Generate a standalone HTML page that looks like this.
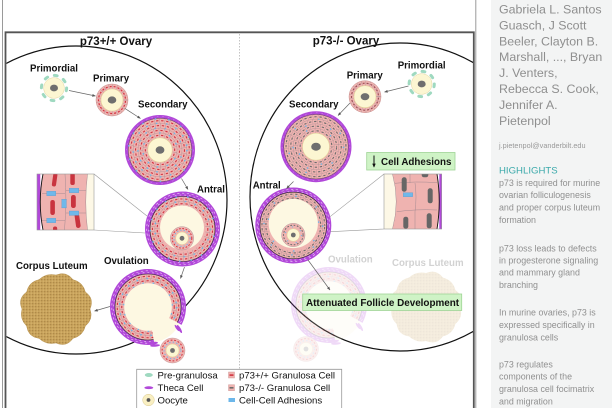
<!DOCTYPE html>
<html><head><meta charset="utf-8">
<style>
html,body{margin:0;padding:0;background:#fff;width:612px;height:408px;overflow:hidden;}
svg{display:block;}
text{font-family:"Liberation Sans",Arial,sans-serif;}
.b{font-weight:bold;fill:#111;}
.lg{font-size:9.6px;fill:#111;}
.au{font-size:12.4px;fill:#8f8f8f;}
.hl{font-size:8.9px;fill:#909090;}
</style></head><body>
<svg width="612" height="408" viewBox="0 0 612 408" xmlns="http://www.w3.org/2000/svg">
<defs>
 <marker id="ah" viewBox="0 0 6 6" refX="5.5" refY="3" markerWidth="5" markerHeight="5" orient="auto" markerUnits="strokeWidth"><path d="M0,0.6 L6,3 L0,5.4 Z" fill="#555"/></marker>
 <marker id="ahk" viewBox="0 0 6 6" refX="5" refY="3" markerWidth="4" markerHeight="4" orient="auto" markerUnits="strokeWidth"><path d="M0,0.4 L6,3 L0,5.6 Z" fill="#111"/></marker>
 <clipPath id="cbox"><rect x="6.5" y="33.3" width="466.5" height="375"/></clipPath>
 <clipPath id="ci1"><rect x="37" y="174" width="57" height="56"/></clipPath>
 <clipPath id="ci2"><rect x="384" y="174" width="58" height="55"/></clipPath>
 <pattern id="clp" width="3" height="3" patternUnits="userSpaceOnUse">
  <rect width="3" height="3" fill="#c9a35b"/>
  <circle cx="0.8" cy="0.8" r="0.5" fill="#8c6a35"/>
  <circle cx="2.2" cy="2.1" r="0.45" fill="#e6cb8a"/>
 </pattern>
 <mask id="gapm" maskUnits="userSpaceOnUse" x="-50" y="-50" width="100" height="100">
  <rect x="-50" y="-50" width="100" height="100" fill="#fff"/>
  <path d="M0,0 L44.1,23.5 L30,60 L8.7,49.2 Z" fill="#000"/>
 </mask>

 <g id="p0">
  <circle r="12.6" fill="none" stroke="#9fd9c0" stroke-width="3" stroke-linecap="round" stroke-dasharray="2.8 7.1"/>
  <circle r="10.3" fill="#fcf6d2" stroke="#e2d5a0" stroke-width="0.5"/>
  <ellipse rx="4" ry="3.4" fill="#6e6e6e"/>
 </g>
 <g id="pr1">
  <circle r="16" fill="#efb3b0" stroke="#c9908e" stroke-width="0.5"/>
  <circle r="13.5" fill="none" stroke="#a58b92" stroke-width="4.6" stroke-dasharray="0.35 3.65"/>
  <circle r="13.5" fill="none" stroke="#d23441" stroke-width="1.2" stroke-dasharray="2 2" stroke-dashoffset="-1"/>
  <circle r="11" fill="#fcf6d2" stroke="#e2d49a" stroke-width="0.6"/>
  <ellipse rx="4.3" ry="3.6" fill="#6e6e6e"/>
 </g>
 <g id="pr2">
  <circle r="16" fill="#efb3b0" stroke="#c9908e" stroke-width="0.5"/>
  <circle r="13.5" fill="none" stroke="#a58b92" stroke-width="4.6" stroke-dasharray="0.35 3.65"/>
  <circle r="13.5" fill="none" stroke="#9a5058" stroke-width="1.2" stroke-dasharray="2 2" stroke-dashoffset="-1"/>
  <circle r="11" fill="#fcf6d2" stroke="#e2d49a" stroke-width="0.6"/>
  <ellipse rx="4.3" ry="3.6" fill="#6e6e6e"/>
 </g>

 <g id="s1">
  <circle r="35" fill="#b148d9"/>
  <circle r="33.4" fill="none" stroke="#d89cf0" stroke-width="0.5" stroke-dasharray="1.5 4"/>
  <circle r="31.8" fill="#efb3b0" stroke="#5a3d55" stroke-width="0.5"/>
  <g fill="none" stroke="#a58b92">
   <circle r="26.9" stroke-width="0.35"/>
   <circle r="22" stroke-width="0.35"/>
   <circle r="17.1" stroke-width="0.35"/>
   <circle r="29.35" stroke-width="4.9" stroke-dasharray="0.35 4.75"/>
   <circle r="24.45" stroke-width="4.9" stroke-dasharray="0.35 4.75" stroke-dashoffset="2"/>
   <circle r="19.55" stroke-width="4.9" stroke-dasharray="0.35 4.75" stroke-dashoffset="1"/>
   <circle r="14.65" stroke-width="4.9" stroke-dasharray="0.35 4.75" stroke-dashoffset="3"/>
  </g>
  <g fill="none" stroke="#d23441" stroke-width="1.1" stroke-dasharray="2.3 2.8">
   <circle r="29.35" stroke-dashoffset="-1.575"/>
   <circle r="24.45" stroke-dashoffset="0.425"/>
   <circle r="19.55" stroke-dashoffset="-0.575"/>
   <circle r="14.65" stroke-dashoffset="1.425"/>
  </g>
  <g fill="none" stroke="#6cb7ea" stroke-width="1.4" stroke-dasharray="1.5 8.7">
   <circle r="26.9"/><circle r="22" stroke-dashoffset="4"/><circle r="17.1" stroke-dashoffset="2"/>
   <circle r="31.4" stroke-dasharray="1.5 12" stroke-dashoffset="6"/>
  </g>
  <circle r="12.2" fill="#fcf6d2" stroke="#e3d49c" stroke-width="0.6"/>
  <ellipse rx="4.4" ry="3.7" fill="#6e6e6e"/>
 </g>

 <g id="s2">
  <circle r="35.5" fill="#b148d9"/>
  <circle r="33.9" fill="none" stroke="#d89cf0" stroke-width="0.5" stroke-dasharray="1.5 4"/>
  <circle r="32.3" fill="#efb3b0" stroke="#5a3d55" stroke-width="0.5"/>
  <g fill="none" stroke="#a58b92">
   <circle r="27.6" stroke-width="0.35"/>
   <circle r="22.9" stroke-width="0.35"/>
   <circle r="18.2" stroke-width="0.35"/>
   <circle r="29.95" stroke-width="4.7" stroke-dasharray="0.35 4.75"/>
   <circle r="25.25" stroke-width="4.7" stroke-dasharray="0.35 4.75" stroke-dashoffset="2"/>
   <circle r="20.55" stroke-width="4.7" stroke-dasharray="0.35 4.75" stroke-dashoffset="1"/>
   <circle r="15.85" stroke-width="4.7" stroke-dasharray="0.35 4.75" stroke-dashoffset="3"/>
  </g>
  <g fill="none" stroke="#6c6c6c" stroke-width="1.1" stroke-dasharray="2.3 2.8">
   <circle r="29.95" stroke-dashoffset="-1.575"/>
   <circle r="25.25" stroke-dashoffset="0.425"/>
   <circle r="20.55" stroke-dashoffset="-0.575"/>
   <circle r="15.85" stroke-dashoffset="1.425"/>
  </g>
  <g fill="none" stroke="#6cb7ea" stroke-width="1.4" stroke-dasharray="1.4 25">
   <circle r="27.6"/><circle r="22.9" stroke-dashoffset="9"/><circle r="18.2" stroke-dashoffset="4"/>
  </g>
  <circle r="13.5" fill="#fcf6d2" stroke="#e3d49c" stroke-width="0.6"/>
  <ellipse rx="4.8" ry="4" fill="#6e6e6e"/>
 </g>

 <g id="a1">
  <circle r="37.5" fill="#b148d9"/>
  <circle r="35.8" fill="none" stroke="#f3dcfa" stroke-width="0.55" stroke-dasharray="2.2 2.6"/>
  <circle r="34" fill="none" stroke="#f3dcfa" stroke-width="0.55" stroke-dasharray="1.8 3" stroke-dashoffset="1.5"/>
  <circle r="32.5" fill="#efb3b0" stroke="#222" stroke-width="0.6"/>
  <g fill="none" stroke="#a58b92">
   <circle r="27.7" stroke-width="0.35"/>
   <circle r="30.1" stroke-width="4.8" stroke-dasharray="0.35 4.75"/>
   <circle r="25.3" stroke-width="4.8" stroke-dasharray="0.35 4.75" stroke-dashoffset="2"/>
  </g>
  <g fill="none" stroke="#d23441" stroke-width="1.1" stroke-dasharray="2.3 2.8">
   <circle r="30.1" stroke-dashoffset="-1.575"/>
   <circle r="25.3" stroke-dashoffset="0.425"/>
  </g>
  <g fill="none" stroke="#6cb7ea" stroke-width="1.4" stroke-dasharray="1.5 8.7">
   <circle r="27.7"/><circle r="32.2" stroke-dasharray="1.5 10" stroke-dashoffset="5"/>
  </g>
  <circle cx="-0.5" cy="-1.5" r="22" fill="#fdf8e2"/>
  <g transform="translate(-0.5,9.3)">
   <circle r="11.7" fill="#efb3b0" stroke="#a58b92" stroke-width="0.4"/>
   <circle r="9.8" fill="none" stroke="#d23441" stroke-width="1" stroke-dasharray="1.7 1.6"/>
   <circle r="8.1" fill="none" stroke="#6cb7ea" stroke-width="1" stroke-dasharray="1.1 2.2"/>
   <circle r="6.3" fill="#fcf6d2" stroke="#e3d49c" stroke-width="0.5"/>
   <circle r="2.4" fill="#6e6e6e"/>
  </g>
 </g>

 <g id="a2">
  <circle r="38" fill="#b148d9"/>
  <circle r="36.2" fill="none" stroke="#f3dcfa" stroke-width="0.55" stroke-dasharray="2.2 2.6"/>
  <circle r="34.6" fill="none" stroke="#f3dcfa" stroke-width="0.55" stroke-dasharray="1.8 3" stroke-dashoffset="1.5"/>
  <circle r="33.3" fill="#efb3b0" stroke="#222" stroke-width="0.6"/>
  <g fill="none" stroke="#a58b92">
   <circle r="29.4" stroke-width="0.35"/>
   <circle r="31.35" stroke-width="3.9" stroke-dasharray="0.35 4.75"/>
   <circle r="27.4" stroke-width="3.9" stroke-dasharray="0.35 4.75" stroke-dashoffset="2"/>
  </g>
  <g fill="none" stroke="#6c6c6c" stroke-width="1.1" stroke-dasharray="2.3 2.8">
   <circle r="31.35" stroke-dashoffset="-1.575"/>
   <circle r="27.4" stroke-dashoffset="0.425"/>
  </g>
  <g fill="none" stroke="#6cb7ea" stroke-width="1.4" stroke-dasharray="1.4 22">
   <circle r="29.4"/><circle r="25.5" stroke-dashoffset="8"/>
  </g>
  <circle cx="0" cy="-2" r="24.6" fill="#fdf8e2"/>
  <g transform="translate(0,9.5)">
   <circle r="11.7" fill="#efb3b0" stroke="#a58b92" stroke-width="0.4"/>
   <circle r="9.8" fill="none" stroke="#6c6c6c" stroke-width="1" stroke-dasharray="1.7 1.6"/>
   <circle r="8.1" fill="none" stroke="#6cb7ea" stroke-width="1" stroke-dasharray="1.1 8"/>
   <circle r="6.3" fill="#fcf6d2" stroke="#e3d49c" stroke-width="0.5"/>
   <circle r="2.4" fill="#6e6e6e"/>
  </g>
 </g>

 <g id="o1">
  <g mask="url(#gapm)">
   <circle r="38" fill="#b148d9"/>
   <circle r="36.2" fill="none" stroke="#f3dcfa" stroke-width="0.55" stroke-dasharray="2.2 2.6"/>
   <circle r="34.5" fill="none" stroke="#f3dcfa" stroke-width="0.55" stroke-dasharray="1.8 3" stroke-dashoffset="1.5"/>
   <circle r="33" fill="#efb3b0" stroke="#222" stroke-width="0.6"/>
   <g fill="none" stroke="#a58b92">
    <circle r="28.5" stroke-width="0.35"/>
    <circle r="30.75" stroke-width="4.5" stroke-dasharray="0.35 4.75"/>
    <circle r="26.25" stroke-width="4.5" stroke-dasharray="0.35 4.75" stroke-dashoffset="2"/>
   </g>
   <g fill="none" stroke="#d23441" stroke-width="1.1" stroke-dasharray="2.3 2.8">
    <circle r="30.75" stroke-dashoffset="-1.575"/>
    <circle r="26.25" stroke-dashoffset="0.425"/>
   </g>
   <g fill="none" stroke="#6cb7ea" stroke-width="1.4" stroke-dasharray="1.5 8.7">
    <circle r="28.5"/><circle r="24.2" stroke-dashoffset="4"/>
   </g>
  </g>
  <circle r="23.8" fill="#fdf8e2"/>
  <path d="M0,0 L31.8,16.9 A36,36 0 0 1 6.3,35.5 Z" fill="#fdf8e2"/>
  <g fill="#b148d9">
   <ellipse cx="31.5" cy="22" rx="1.3" ry="4.6" transform="rotate(-30 31.5 22)"/>
   <ellipse cx="29" cy="21" rx="1.1" ry="3.8" transform="rotate(-35 29 21)"/>
   <ellipse cx="5" cy="36.3" rx="5" ry="1.4" transform="rotate(-8 5 36.3)"/>
   <ellipse cx="7" cy="38.5" rx="5" ry="1.2" transform="rotate(-4 7 38.5)"/>
  </g>
 </g>

 <g id="r1">
  <circle r="12.5" fill="#efb3b0" stroke="#b88a8a" stroke-width="0.4"/>
  <circle r="10.4" fill="none" stroke="#d23441" stroke-width="1" stroke-dasharray="1.8 1.8"/>
  <circle r="8.4" fill="none" stroke="#6cb7ea" stroke-width="1" stroke-dasharray="1.2 2.4"/>
  <circle r="6.5" fill="#fcf6d2" stroke="#e3d49c" stroke-width="0.5"/>
  <circle r="2.4" fill="#6e6e6e"/>
 </g>

 <path id="clpath" d="M34,0 Q37.7,10.1 29.4,17 Q26.9,26.9 17,29.4 Q10.4,38.6 0,34 Q-9.7,36.2 -17,29.4 Q-27.9,27.9 -29.4,17 Q-36.7,9.8 -34,0 Q-38.6,-10.4 -29.4,-17 Q-27.2,-27.2 -17,-29.4 Q-9.7,-36.2 0,-34 Q10.2,-38.2 17,-29.4 Q26.9,-26.9 29.4,-17 Q38.6,-10.4 34,0 Z"/>
</defs>

<rect x="491" y="0" width="121" height="408" fill="#f3f4f4"/>

<line x1="2.5" y1="0" x2="2.5" y2="408" stroke="#9a9a9a" stroke-width="1"/>
<line x1="475.8" y1="0" x2="475.8" y2="408" stroke="#9a9a9a" stroke-width="1"/>
<path d="M5.5,408 L5.5,32.3 L473.8,32.3 L473.8,408" fill="none" stroke="#555" stroke-width="1.8"/>

<line x1="239.5" y1="34" x2="239.5" y2="370" stroke="#aaa" stroke-width="0.7" stroke-dasharray="1.5 1.5"/>

<g clip-path="url(#cbox)" fill="none" stroke="#111" stroke-width="1.2">
 <ellipse cx="76" cy="200" rx="151" ry="154"/>
 <ellipse cx="400" cy="197" rx="150" ry="154"/>
</g>

<text class="b" x="116" y="44.8" font-size="11.5" text-anchor="middle">p73+/+ Ovary</text>
<text class="b" x="346" y="44.5" font-size="11.5" text-anchor="middle">p73-/- Ovary</text>

<use href="#p0" x="54" y="88"/>
<use href="#pr1" x="112" y="100"/>
<use href="#s1" x="160" y="150"/>
<use href="#a1" x="182.5" y="229"/>
<use href="#o1" x="148" y="307"/>
<use href="#r1" x="172.5" y="350.5"/>
<use href="#clpath" x="56" y="309" fill="url(#clp)" stroke="#b08a48" stroke-width="0.4"/>

<line x1="94" y1="174" x2="147" y2="216" stroke="#999" stroke-width="0.6"/>
<line x1="94" y1="230" x2="145" y2="233" stroke="#999" stroke-width="0.6"/>
<g clip-path="url(#ci1)">
 <rect x="37" y="174" width="57" height="56" fill="#efb3b0"/>
 <path d="M87.5,174 Q84,202 87.5,230 L94,230 L94,174 Z" fill="#fdf8e6"/>
 <g fill="none" stroke="#a58b92" stroke-width="0.5">
  <path d="M87.5,174 Q84,202 87.5,230"/>
  <path d="M65,174 Q67,200 64.5,230"/>
  <path d="M42,193.5 L65,193.5 M42,220.5 L65,220.5 M66,190.5 L86,190.5 M66,213 L86,213"/>
 </g>
 <rect x="37" y="174" width="3.3" height="56" fill="#b148d9"/>
 <path d="M40.3,174 L43,174 Q37.5,202 43,230 L40.3,230 Z" fill="#fff"/>
 <path d="M43,174 Q37.5,202 43,230" fill="none" stroke="#111" stroke-width="0.9"/>
 <g fill="#c9343f">
  <rect x="52.5" y="173" width="4.2" height="13.5" rx="2" transform="rotate(8 54.6 180)"/>
  <rect x="70.3" y="173" width="4.5" height="12" rx="2"/>
  <rect x="50.3" y="200" width="4.6" height="15" rx="2.2"/>
  <rect x="71" y="195" width="4.8" height="13" rx="2.2"/>
  <rect x="75.3" y="213.5" width="4.6" height="14.5" rx="2.2" transform="rotate(-8 77.6 220.7)"/>
  <rect x="53" y="226.5" width="4.2" height="6" rx="2"/>
 </g>
 <g fill="#70b8ea" stroke="#4f93c8" stroke-width="0.3">
  <rect x="46.8" y="191.3" width="9" height="4.4"/>
  <rect x="69.3" y="188.3" width="9.5" height="4.4"/>
  <rect x="61.8" y="199.3" width="4.6" height="8.6"/>
  <rect x="69.3" y="211" width="9.5" height="4.4"/>
  <rect x="46.8" y="218.3" width="9" height="4.4"/>
 </g>
</g>
<rect x="37" y="174" width="57" height="56" fill="none" stroke="#999" stroke-width="0.6"/>

<g stroke="#666" stroke-width="0.7" fill="none" marker-end="url(#ah)">
 <line x1="69" y1="90.5" x2="95.5" y2="96"/>
 <line x1="125" y1="108.5" x2="140.5" y2="118.5"/>
 <line x1="181.5" y1="178.5" x2="188" y2="189.5"/>
 <line x1="184.5" y1="267" x2="180.5" y2="278.5"/>
 <line x1="110" y1="306.5" x2="94.5" y2="311"/>
</g>

<g font-size="9.7">
 <text x="30" y="71.5" class="b">Primordial</text>
 <text x="93" y="81.5" class="b">Primary</text>
 <text x="138" y="107.5" class="b">Secondary</text>
 <text x="197" y="192.5" class="b">Antral</text>
 <text x="104" y="264.2" class="b">Ovulation</text>
 <text x="16" y="269.2" class="b">Corpus Luteum</text>
</g>

<g opacity="0.2">
 <use href="#o1" x="329" y="305"/>
 <use href="#r1" x="306" y="349"/>
 <use href="#clpath" x="426" y="307" fill="url(#clp)"/>
</g>
<text x="328" y="262.5" font-size="9.7" font-weight="bold" fill="#d2d2d2">Ovulation</text>
<text x="392" y="266.2" font-size="9.7" font-weight="bold" fill="#d2d2d2">Corpus Luteum</text>

<use href="#p0" x="421.7" y="84"/>
<use href="#pr2" x="365" y="96.7"/>
<use href="#s2" x="316" y="146.7"/>
<use href="#a2" x="293.3" y="225.5"/>

<line x1="384" y1="174" x2="330" y2="216.7" stroke="#999" stroke-width="0.6"/>
<line x1="384" y1="229" x2="330.5" y2="231.7" stroke="#999" stroke-width="0.6"/>
<g clip-path="url(#ci2)">
 <rect x="384" y="174" width="58" height="55" fill="#efb3b0"/>
 <path d="M384,174 L392.5,174 Q400,201.5 392.5,229 L384,229 Z" fill="#fdf8e6"/>
 <g fill="none" stroke="#a58b92" stroke-width="0.5">
  <path d="M392.5,174 Q400,201.5 392.5,229"/>
  <path d="M395,183.3 Q416,181 437,182.7"/>
  <path d="M396.7,211.7 Q416,209 437,210"/>
  <path d="M410,174 L410,183 M415,183 Q417,197 415,211.5 M415,211.5 L415,229"/>
 </g>
 <path d="M437,174 L442,174 L442,229 L437,229 Q441.5,201.5 437,174 Z" fill="#fff"/>
 <rect x="439.3" y="174" width="2.7" height="55" fill="#b148d9"/>
 <path d="M437,174 Q441.5,201.5 437,229" fill="none" stroke="#111" stroke-width="0.9"/>
 <g fill="#666">
  <rect x="401.7" y="177.3" width="5" height="14.4" rx="2.3"/>
  <rect x="427.7" y="188.3" width="5" height="15" rx="2.3"/>
  <rect x="403.3" y="216.7" width="5" height="12" rx="2.3"/>
  <rect x="426.7" y="213.3" width="5" height="15" rx="2.3"/>
  <rect x="421.7" y="171" width="6.6" height="6.3" rx="2.3"/>
 </g>
 <rect x="403.3" y="192.7" width="9.4" height="4" fill="#70b8ea" stroke="#4f93c8" stroke-width="0.3"/>
</g>
<rect x="384" y="174" width="57.7" height="55" fill="none" stroke="#999" stroke-width="0.6"/>

<g stroke="#666" stroke-width="0.7" fill="none" marker-end="url(#ah)">
 <line x1="408.5" y1="86" x2="384.5" y2="92"/>
 <line x1="350" y1="103" x2="338" y2="115.5"/>
 <line x1="293.5" y1="181.5" x2="286.5" y2="188.5"/>
 <line x1="308" y1="260" x2="330" y2="290"/>
</g>

<text x="397.7" y="68.5" font-size="9.7" class="b">Primordial</text>
<text x="346.7" y="78.5" font-size="9.7" class="b">Primary</text>
<text x="289" y="107.5" font-size="9.7" class="b">Secondary</text>
<text x="252.7" y="188.5" font-size="9.7" class="b">Antral</text>

<rect x="366.7" y="152.5" width="88.3" height="17.5" fill="#cff3c6" stroke="#9fd496" stroke-width="0.8"/>
<line x1="374" y1="155.5" x2="374" y2="167" stroke="#111" stroke-width="1" marker-end="url(#ahk)"/>
<text x="381" y="165" font-size="9.8" class="b">Cell Adhesions</text>

<rect x="302.7" y="294" width="159" height="16.5" fill="#cff3c6" stroke="#9fd496" stroke-width="0.8"/>
<text x="306" y="305.8" font-size="9.9" class="b">Attenuated Follicle Development</text>

<path d="M136.7,408 L136.7,369.3 L341.7,369.3 L341.7,408 Z" fill="#fff"/>
<path d="M136.7,408 L136.7,369.3 L341.7,369.3 L341.7,408" fill="none" stroke="#999" stroke-width="0.8"/>
<ellipse cx="148.8" cy="375" rx="4" ry="2" fill="#9fd9c0"/>
<ellipse cx="148.8" cy="387.7" rx="4.5" ry="1.4" fill="#b148d9"/>
<circle cx="148.5" cy="400" r="5.8" fill="#f9efc2" stroke="#d9c98f" stroke-width="0.5"/>
<circle cx="148.5" cy="400" r="1.9" fill="#555"/>
<rect x="228.5" y="372" width="6" height="6" fill="#efb3b0" stroke="#c9908e" stroke-width="0.4"/>
<rect x="229.5" y="374.3" width="4" height="1.6" fill="#d23441"/>
<rect x="228.5" y="384.7" width="6" height="6" fill="#efb3b0" stroke="#c9908e" stroke-width="0.4"/>
<rect x="229.5" y="387" width="4" height="1.6" fill="#6c6c6c"/>
<rect x="228.5" y="398" width="6.5" height="4" fill="#6cb7ea"/>
<text x="157.5" y="378.5" class="lg">Pre-granulosa</text>
<text x="157.5" y="391.2" class="lg">Theca Cell</text>
<text x="157.5" y="403.5" class="lg">Oocyte</text>
<text x="239" y="378.5" class="lg">p73+/+ Granulosa Cell</text>
<text x="239" y="391.2" class="lg">p73-/- Granulosa Cell</text>
<text x="239" y="403.5" class="lg">Cell-Cell Adhesions</text>

<text x="499" y="13.5" class="au">Gabriela L. Santos</text>
<text x="499" y="29.4" class="au">Guasch, J Scott</text>
<text x="499" y="45.3" class="au">Beeler, Clayton B.</text>
<text x="499" y="61.2" class="au">Marshall, ..., Bryan</text>
<text x="499" y="77.1" class="au">J. Venters,</text>
<text x="499" y="93" class="au">Rebecca S. Cook,</text>
<text x="499" y="108.9" class="au">Jennifer A.</text>
<text x="499" y="124.8" class="au">Pietenpol</text>
<text x="499" y="147.8" font-size="7.3" fill="#999">j.pietenpol@vanderbilt.edu</text>
<text x="499" y="173.5" font-size="9.6" fill="#3aa9aa">HIGHLIGHTS</text>
<text x="499" y="185.8" class="hl">p73 is required for murine</text>
<text x="499" y="198.2" class="hl">ovarian folliculogenesis</text>
<text x="499" y="210.6" class="hl">and proper corpus luteum</text>
<text x="499" y="223" class="hl">formation</text>
<text x="499" y="251.3" class="hl">p73 loss leads to defects</text>
<text x="499" y="263.7" class="hl">in progesterone signaling</text>
<text x="499" y="275.7" class="hl">and mammary gland</text>
<text x="499" y="288" class="hl">branching</text>
<text x="499" y="315.7" class="hl">In murine ovaries, p73 is</text>
<text x="499" y="328" class="hl">expressed specifically in</text>
<text x="499" y="340.3" class="hl">granulosa cells</text>
<text x="499" y="367.3" class="hl">p73 regulates</text>
<text x="499" y="379.7" class="hl">components of the</text>
<text x="499" y="392" class="hl">granulosa cell focimatrix</text>
<text x="499" y="404.3" class="hl">and migration</text>
</svg>
</body></html>
